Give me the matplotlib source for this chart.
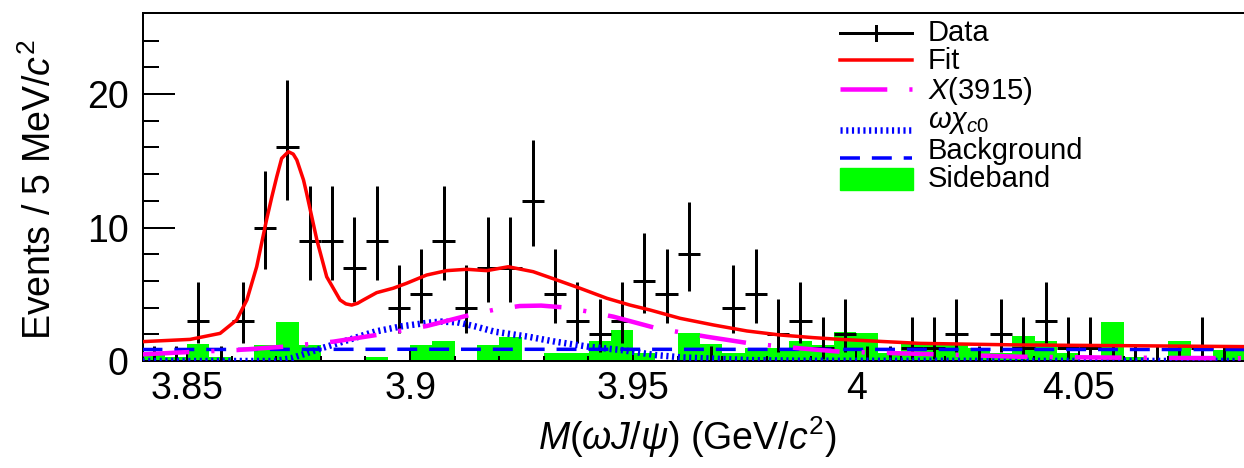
import numpy as np
import matplotlib.pyplot as plt
from matplotlib.lines import Line2D
from matplotlib.patches import Rectangle

plt.rcParams['font.family'] = ['Liberation Sans', 'DejaVu Sans']
plt.rcParams['mathtext.fontset'] = 'custom'
plt.rcParams['mathtext.rm'] = 'Liberation Sans'
plt.rcParams['mathtext.it'] = 'Liberation Sans:italic'
plt.rcParams['mathtext.bf'] = 'Liberation Sans:bold'

# binning: 5 MeV bins starting at 3.84 GeV
bin_lo = 3.84
bin_w = 0.005

# events per bin
counts = [0, 0, 3, 0, 3, 10, 16, 9, 9, 7,
          9, 4, 5, 9, 4, 7, 7, 12, 5, 3,
          2, 3, 6, 5, 8, 0, 4, 5, 2, 3,
          1, 2, 0, 0, 1, 1, 2, 0, 2, 1,
          3, 1, 1, 0, 0, 0, 0, 1, 0, 0]

# scaled sideband histogram
sideband = [0.6, 0.3, 1.3, 0.3, 0.0, 1.2, 2.9, 1.2, 0.0, 0.0,
            0.3, 0.0, 1.2, 1.5, 0.0, 1.2, 1.8, 0.0, 0.6, 0.6,
            1.5, 2.3, 0.6, 0.0, 2.1, 1.3, 0.6, 1.0, 1.0, 1.5,
            1.2, 2.2, 2.1, 0.6, 1.3, 1.3, 1.3, 1.0, 0.6, 1.9,
            1.5, 0.6, 0.0, 2.9, 0.3, 0.0, 1.5, 0.3, 0.8, 0.8]

# Poisson (68.3%) asymmetric errors used by the plot: n -> (low, high)
poisson_err = {0: (0.0, 1.148), 1: (0.827, 2.300), 2: (1.292, 2.638),
               3: (1.633, 2.918), 4: (1.914, 3.163), 5: (2.160, 3.382),
               6: (2.380, 3.584), 7: (2.581, 3.770), 8: (2.768, 3.945),
               9: (2.943, 4.110), 10: (3.109, 4.266), 12: (3.415, 4.553),
               16: (3.957, 5.063)}

# total fit
fit_x = [3.8400, 3.8507, 3.8574, 3.8611, 3.8634, 3.8656, 3.8678, 3.8690,
         3.8701, 3.8712, 3.8727, 3.8738, 3.8746, 3.8761, 3.8768, 3.8791,
         3.8813, 3.8843, 3.8856, 3.8869, 3.8882, 3.8895, 3.8925, 3.8962,
         3.8992, 3.9037, 3.9082, 3.9127, 3.9172, 3.9220, 3.9276, 3.9329,
         3.9381, 3.9441, 3.9493, 3.9538, 3.9605, 3.9680, 3.9755, 3.9829,
         3.9904, 3.9964, 4.0143, 4.0368, 4.0592, 4.0900]
fit_y = [1.45, 1.62, 2.07, 3.07, 4.57, 7.06, 10.56, 12.3,
         13.8, 15.18, 15.68, 15.5, 15.06, 13.56, 12.56, 9.06,
         6.31, 4.57, 4.28, 4.19, 4.32, 4.57, 5.12, 5.45,
         5.82, 6.44, 6.77, 6.87, 6.77, 7.06, 6.69, 6.07,
         5.45, 4.70, 4.19, 3.82, 3.20, 2.70, 2.25, 1.95,
         1.75, 1.62, 1.32, 1.20, 1.15, 1.07]

# X(3915) component
x3915_x = [3.8400, 3.8491, 3.8611, 3.8716, 3.8828, 3.8925, 3.9037, 3.9134,
           3.9190, 3.9246, 3.9294, 3.9343, 3.9400, 3.9456, 3.9553, 3.9665,
           3.9762, 3.9874, 3.9964, 4.0181, 4.0367, 4.0592, 4.0900]
x3915_y = [0.50, 0.65, 0.82, 1.07, 1.45, 1.95, 2.62, 3.45,
           3.85, 4.12, 4.15, 4.02, 3.70, 3.32, 2.45, 1.82,
           1.32, 0.95, 0.70, 0.50, 0.32, 0.25, 0.20]

# omega chi_c0 component
wchi_x = [3.8400, 3.8695, 3.8733, 3.8756, 3.8801, 3.8861, 3.8921, 3.8981,
          3.9041, 3.9070, 3.9106, 3.9145, 3.9189, 3.9265, 3.9325, 3.9400,
          3.9474, 3.9549, 3.9609, 3.9759, 3.9878, 4.0900]
wchi_y = [0.0, 0.0, 0.2, 0.45, 0.95, 1.57, 2.2, 2.6,
          2.87, 2.95, 2.9, 2.6, 2.2, 1.82, 1.45, 1.07,
          0.82, 0.45, 0.27, 0.07, 0.02, 0.0]

# background component
bkg_x = [3.84, 3.90, 4.00, 4.09]
bkg_y = [0.86, 0.88, 0.87, 0.86]

green = '#00ff00'
magenta = '#ff00ff'
blue = '#0000ff'
red = '#ff0000'
px = 0.72  # points per pixel at dpi 100
x3915_dash = (0, (10.4, 4.9, 0.7, 4.9))
wchi_dash = (0, (0.33, 0.55))
bkg_dash = (0, (5.7, 3.4))

centers = bin_lo + (np.arange(len(counts)) + 0.5) * bin_w
err_lo = [poisson_err[n][0] for n in counts]
err_hi = [poisson_err[n][1] for n in counts]

W, H = 1244, 468
fig = plt.figure(figsize=(W / 100, H / 100), dpi=100)
ax = fig.add_axes([142.5 / W, 1 - 361 / H, 1115 / W, 348 / H])

ax.bar(centers, sideband, width=bin_w, color=green, linewidth=0, zorder=1)
ax.errorbar(centers, counts, yerr=[err_lo, err_hi], xerr=bin_w / 2,
            fmt='none', ecolor='k', elinewidth=3 * px, capsize=0, zorder=2)
ax.plot(bkg_x, bkg_y, color=blue, lw=3.5 * px, linestyle=bkg_dash, zorder=3)
ax.plot(wchi_x, wchi_y, color=blue, lw=6.5 * px, linestyle=wchi_dash, zorder=3)
ax.plot(x3915_x, x3915_y, color=magenta, lw=4.5 * px, linestyle=x3915_dash,
        zorder=3)
ax.plot(fit_x, fit_y, color=red, lw=3.5 * px, zorder=4)

ax.set_xlim(3.84, 4.09)
ax.set_ylim(0, 26.07)
ax.set_xticks([3.85, 3.9, 3.95, 4.0, 4.05])
ax.set_xticklabels(['3.85', '3.9', '3.95', '4', '4.05'])
ax.set_xticks(np.arange(3.84, 4.091, 0.01), minor=True)
ax.set_yticks([0, 10, 20])
ax.set_yticks(np.arange(0, 26, 2), minor=True)
ax.tick_params(axis='both', which='both', direction='in', width=2 * px,
               labelsize=27, top=False, right=False)
ax.tick_params(axis='y', which='major', length=32 * px, pad=10)
ax.tick_params(axis='y', which='minor', length=16 * px)
ax.tick_params(axis='x', which='major', length=10 * px, pad=7)
ax.tick_params(axis='x', which='minor', length=5 * px)
for side in ['left', 'bottom', 'top']:
    ax.spines[side].set_linewidth(2 * px)
ax.spines['right'].set_visible(False)

fig.text(687 / W, 1 - 437 / H, r'$M$($\omega J/\psi$) (GeV/$c^2$)',
         fontsize=27, ha='center', va='center')
fig.text(40 / W, 1 - 190 / H, r'Events / 5 MeV/$c^2$', fontsize=27,
         rotation=90, ha='center', va='center')

# legend, drawn by hand to follow the original row layout
hx0, hx1, tx = 840, 912, 928
rows = [('Data', 33, 33), ('Fit', 61, 60), (r'$X$(3915)', 91, 89),
        (r'$\omega\chi_{c0}$', 122, 130), ('Background', 151, 158),
        ('Sideband', 179, 179)]
styles = [dict(color='k', lw=3 * px),
          dict(color=red, lw=3.5 * px),
          dict(color=magenta, lw=4.5 * px, linestyle=x3915_dash),
          dict(color=blue, lw=6.5 * px, linestyle=wchi_dash),
          dict(color=blue, lw=3.5 * px, linestyle=bkg_dash)]
for (label, ty, hy), st in zip(rows, styles + [None]):
    if st is None:
        fig.patches.append(Rectangle((hx0 / W, 1 - 190 / H), 73 / W, 22 / H,
                                     color=green, transform=fig.transFigure))
    else:
        fig.lines.append(Line2D([hx0 / W, hx1 / W], [1 - hy / H] * 2,
                                transform=fig.transFigure, **st))
    fig.text(tx / W, 1 - ty / H, label, fontsize=21, ha='left', va='center')
# vertical tick of the data entry
fig.lines.append(Line2D([876 / W] * 2, [1 - 26 / H, 1 - 40 / H], color='k',
                        lw=3 * px, transform=fig.transFigure))

fig.savefig('out.png', dpi=100)
